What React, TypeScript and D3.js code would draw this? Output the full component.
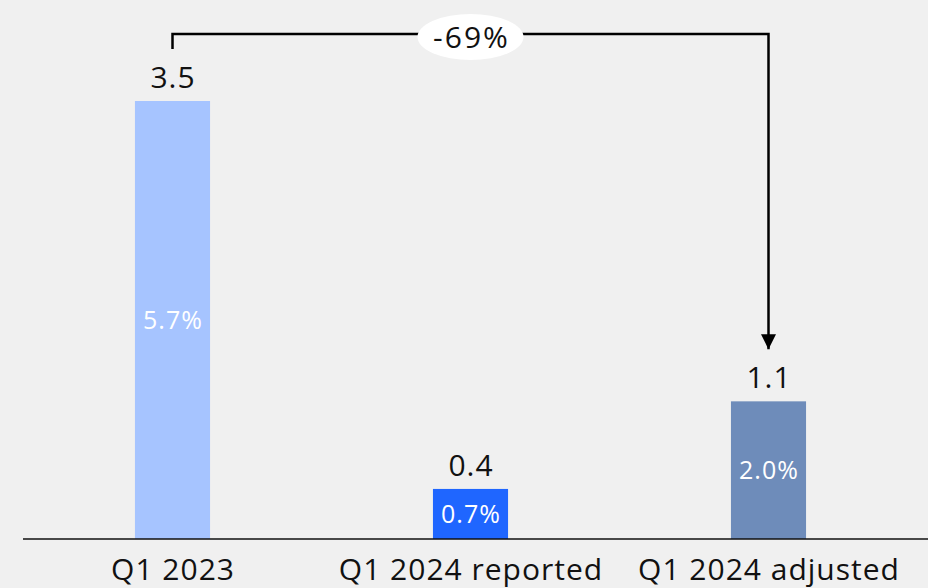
import React, {useEffect, useRef} from "react";
import * as d3 from "d3";

const categories = ["Q1 2023", "Q1 2024 reported", "Q1 2024 adjusted"];
const values = [3.5, 0.4, 1.1];
const shares = ["5.7%", "0.7%", "2.0%"];
const barColors = ["#a6c4ff", "#1f66ff", "#6e8cba"];
const changeLabel = "-69%";

const W = 928;
const H = 588;

export default function App() {
    const ref = useRef(null);

    useEffect(() => {
        const svg = d3.select(ref.current);
        svg.selectAll("*").remove();

        const font = "'Open Sans', sans-serif";
        const baseY = 539;

        svg.append("rect").attr("width", W).attr("height", H).attr("fill", "#f0f0f0");

        const x = d3.scaleBand().domain(categories).range([23.5, 917.5]).paddingInner(0.748).paddingOuter(0.374);
        const y = d3.scaleLinear().domain([0, 3.5]).range([baseY, 101]);

        const g = svg.append("g");

        // bars
        g.selectAll("rect.bar")
            .data(values)
            .enter()
            .append("rect")
            .attr("class", "bar")
            .attr("x", (d, i) => x(categories[i])!)
            .attr("y", d => y(d))
            .attr("width", x.bandwidth())
            .attr("height", d => baseY - y(d))
            .attr("fill", (d, i) => barColors[i]);

        // value labels above bars
        g.selectAll("text.val")
            .data(values)
            .enter()
            .append("text")
            .attr("x", (d, i) => x(categories[i])! + x.bandwidth() / 2 + 0.5)
            .attr("y", d => y(d) - 13)
            .attr("text-anchor", "middle")
            .style("font-family", font)
            .style("font-size", "30px")
            .style("letter-spacing", "1px")
            .attr("fill", "#111")
            .text(d => d.toFixed(1));

        // share labels inside bars
        g.selectAll("text.share")
            .data(values)
            .enter()
            .append("text")
            .attr("x", (d, i) => x(categories[i])! + x.bandwidth() / 2 + 0.5)
            .attr("y", d => (y(d) + baseY) / 2)
            .attr("dy", "0.36em")
            .attr("text-anchor", "middle")
            .style("font-family", font)
            .style("font-size", "25px")
            .style("letter-spacing", "1px")
            .attr("fill", "#fff")
            .text((d, i) => shares[i]);

        // axis line
        g.append("line")
            .attr("x1", 23).attr("x2", W)
            .attr("y1", baseY).attr("y2", baseY)
            .attr("stroke", "#111").attr("stroke-width", 1.5);

        // category labels
        g.selectAll("text.cat")
            .data(categories)
            .enter()
            .append("text")
            .attr("x", d => x(d)! + x.bandwidth() / 2 + 0.5)
            .attr("y", 580)
            .attr("text-anchor", "middle")
            .style("font-family", font)
            .style("font-size", "30px")
            .style("letter-spacing", "1px")
            .attr("fill", "#111")
            .text(d => d);

        // change bracket
        const x0 = x(categories[0])! + x.bandwidth() / 2;
        const x2 = x(categories[2])! + x.bandwidth() / 2;
        const topY = 34;

        svg.append("defs").append("marker")
            .attr("id", "arrow")
            .attr("viewBox", "0 0 10 10")
            .attr("refX", 10).attr("refY", 5)
            .attr("markerWidth", 6).attr("markerHeight", 6)
            .attr("markerUnits", "strokeWidth")
            .attr("orient", "auto")
            .append("path")
            .attr("d", "M0,0 L10,5 L0,10 Z")
            .attr("fill", "#000");

        g.append("path")
            .attr("d", `M${x0},49 L${x0},${topY} L${x2},${topY} L${x2},${y(values[2]) - 52}`)
            .attr("fill", "none")
            .attr("stroke", "#000")
            .attr("stroke-width", 2.5)
            .attr("marker-end", "url(#arrow)");

        const cx = (x0 + x2) / 2;
        g.append("ellipse")
            .attr("cx", cx).attr("cy", 37)
            .attr("rx", 53).attr("ry", 23)
            .attr("fill", "#fff");
        g.append("text")
            .attr("x", cx + 1)
            .attr("y", 37)
            .attr("dy", "0.36em")
            .attr("text-anchor", "middle")
            .style("font-family", font)
            .style("font-size", "30px")
            .style("letter-spacing", "2px")
            .attr("fill", "#111")
            .text(changeLabel);
    }, []);

    return <svg ref={ref} width={W} height={H} style={{display: "block", position: "absolute", left: 0, top: 0}}/>;
}
